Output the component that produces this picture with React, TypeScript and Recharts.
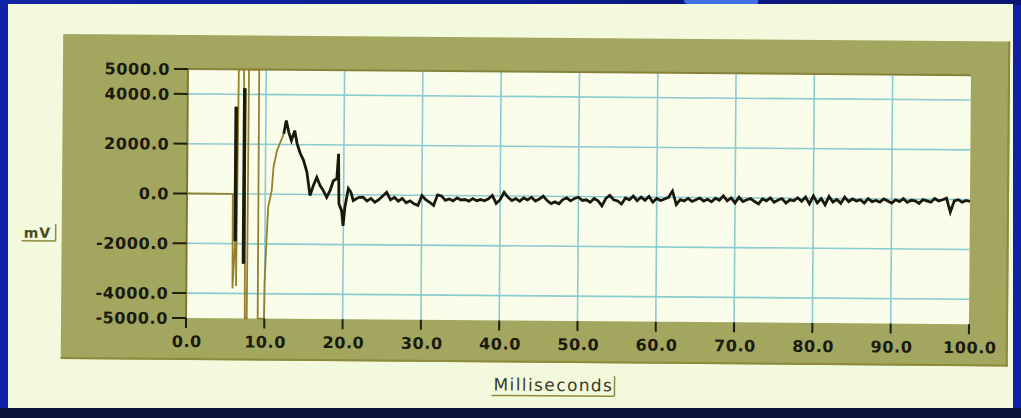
import React from 'react';
import { LineChart, Line, XAxis, YAxis, CartesianGrid, ReferenceLine } from 'recharts';

// Axis ticks and grid positions (milliseconds / mV)
const xTicks = [0, 10, 20, 30, 40, 50, 60, 70, 80, 90, 100];
const yTicks = [-5000, -4000, -2000, 0, 2000, 4000, 5000];
const gridX = [10, 20, 30, 40, 50, 60, 70, 80, 90];
const gridY = [-4000, -2000, 0, 2000, 4000];

// Saturated stimulus burst (thin trace)
const burstTime = [0, 5.85, 5.9, 6.2, 6.25, 6.35, 6.5, 7.15, 7.2, 7.3, 7.35, 7.5, 7.75, 7.8, 9.1, 9.15, 9.95, 10.0, 10.2, 10.38, 10.82, 11.02, 11.46, 11.88, 12.3];
const burstMv = [0, 0, -3800, -1900, 3500, -3700, 5000, 5000, 4300, -2800, 4200, -5000, -5000, 5000, 5000, -5000, -5000, -3600, -1800, -540, 150, 1080, 1760, 2090, 2430];

// Heavy strokes inside the burst
const barTime = [6.2, 6.2, 6.7, 7.28, 7.28];
const barMv: (number | null)[] = [3500, -1900, null, 4250, -2800];

// Evoked response decay
const decayTime = [12.3, 12.61, 12.94, 13.28, 13.7, 14.01, 14.43, 14.85, 15.29, 15.71, 16.13, 16.56, 16.99, 17.41, 17.84, 18.26, 18.68, 19.12, 19.32, 19.41, 19.76, 19.96, 20.18, 20.6, 20.94, 21.24, 21.67, 22.0];
const decayMv = [2430, 2960, 2490, 2160, 2560, 2040, 1640, 1370, 900, -40, 360, 690, 360, 160, -110, 160, 560, 640, 1640, -360, -640, -1250, -500, 250, 100, -230, -150, -100];

// Baseline noise, sampled every 0.5 ms from 22.5 ms
const noiseStart = 22.5;
const noiseStep = 0.5;
const noiseMv = [
  -90, -240, -140, -290, -190, -40, 110, -190, -90, -240,
  -125, -305, -225, -345, -405, -5, -175, -275, -405, 25,
  -15, -195, -135, -215, -95, -175, -155, -215, -115, -195,
  -150, -200, -120, 20, -300, -150, 150, -50, -180, -100,
  -210, -70, -150, -40, -190, -110, 10, -170, -290, -220,
  -295, -125, -55, -175, -75, -25, -155, -125, -225, -75,
  -165, -365, -65, 55, -115, -165, -285, -45, -115, 35,
  -150, 0, -130, 30, -200, -50, -130, -70, 0, 250,
  -290, -90, -140, -40, -160, -90, -20, -140, -70, -170,
  -25, -105, 75, -125, -5, -205, 25, -145, -75, -25,
  -145, -235, -35, -115, 5, -165, -75, -15, -195, -65,
  -100, 20, -120, 50, -220, 100, -180, 0, -250, 80,
  -140, -40, -190, 60, -120, -10, -90, -40, -170, 10,
  -110, -60, -130, 0, -80, -160, -30, -100, 20, -130,
  -45, -65, -165, -15, -65, -115, 35, -65, -15, 55,
  -505, -55, -5, -105, -35, -75,
];

const burstData = burstTime.map((t, i) => ({ t, v: burstMv[i] }));
const barData = barTime.map((t, i) => ({ t, v: barMv[i] }));
const traceData = [
  ...decayTime.map((t, i) => ({ t, v: decayMv[i] })),
  ...noiseMv.map((v, i) => ({ t: noiseStart + i * noiseStep, v })),
];

const FONT = '"DejaVu Sans", Arial, sans-serif';

const YTick = (props: any) => {
  const { x, y, payload } = props;
  return (
    <text x={x} y={y} dy={6} textAnchor="end" fontFamily={FONT} fontSize={16} fontWeight="bold" fill="#1a1a0e" letterSpacing={0.6}>
      {Number(payload.value).toFixed(1)}
    </text>
  );
};

const XTick = (props: any) => {
  const { x, y, payload } = props;
  return (
    <text x={x + 1} y={y} dy={12} textAnchor="middle" fontFamily={FONT} fontSize={16} fontWeight="bold" fill="#1a1a0e" letterSpacing={0.6}>
      {Number(payload.value).toFixed(1)}
    </text>
  );
};

const MvLabel = (props: any) => {
  const vb = props.viewBox || { x: 0, y: 69, width: 187, height: 249 };
  const bx = vb.x + 24;
  const by = vb.y + 170;
  return (
    <g>
      <text x={bx} y={by} fontFamily={FONT} fontSize={14} fontWeight="bold" fill="#4a4820" letterSpacing={1}>
        mV
      </text>
      <line x1={bx - 2} y1={by + 3} x2={bx + 32} y2={by + 3} stroke="#8e8a40" strokeWidth={1.5} />
      <line x1={bx + 32} y1={by - 14} x2={bx + 32} y2={by + 3} stroke="#8e8a40" strokeWidth={1.5} />
    </g>
  );
};

const MsLabel = (props: any) => {
  const vb = props.viewBox || { x: 187, y: 318, width: 783, height: 100 };
  const bx = vb.x + 308;
  const by = vb.y + 70;
  return (
    <g>
      <text x={bx} y={by} fontFamily={FONT} fontSize={17} fill="#3c3c24" letterSpacing={1.4}>
        Milliseconds
      </text>
      <line x1={bx - 2} y1={by + 5} x2={bx + 121} y2={by + 5} stroke="#8e8a40" strokeWidth={1.5} />
      <line x1={bx + 121} y1={by - 15} x2={bx + 121} y2={by + 5} stroke="#8e8a40" strokeWidth={1.5} />
    </g>
  );
};

export default function App() {
  return (
    <div style={{ position: 'absolute', left: 0, top: 0, width: 1021, height: 418, overflow: 'hidden', background: '#0f21a4' }}>
      {/* slide top band */}
      <div style={{ position: 'absolute', left: 0, top: 0, width: 1021, height: 5, background: 'linear-gradient(90deg, #1124a6, #0a1a86 60%, #0a1670)' }} />
      <div style={{ position: 'absolute', left: 684, top: 0, width: 74, height: 4, background: '#3f6fe6', borderBottomLeftRadius: 12 }} />
      {/* bottom band */}
      <div style={{ position: 'absolute', left: 0, top: 408, width: 1021, height: 10, background: '#0b1338' }} />
      {/* cream panel */}
      <div style={{ position: 'absolute', left: 8, top: 4, width: 1005, height: 404, background: '#f3f9dc' }} />
      {/* rotated instrument panel */}
      <div style={{ position: 'absolute', left: 0, top: 0, width: 1021, height: 418, transform: 'rotate(0.45deg)', transformOrigin: '187px 193px' }}>
        <div style={{ position: 'absolute', left: 62, top: 35, width: 945, height: 323, background: '#a3a65f', borderRight: '2px solid #8c8a3c', borderBottom: '2px solid #8c8a3c' }} />
        <div style={{ position: 'absolute', left: 0, top: 0 }}>
          <LineChart width={1021} height={418} margin={{ top: 69, right: 51, bottom: 0, left: 0 }}>
            <CartesianGrid
              fill="#f9fdea"
              fillOpacity={1}
              stroke="#8ccbd2"
              strokeWidth={1.6}
              horizontalValues={gridY}
              verticalValues={gridX}
            />
            <XAxis
              dataKey="t"
              type="number"
              domain={[0, 100]}
              ticks={xTicks}
              interval={0}
              allowDuplicatedCategory={false}
              height={100}
              axisLine={false}
              tickLine={{ stroke: '#1e1e10', strokeWidth: 2 }}
              tickSize={10}
              tickMargin={7}
              tick={<XTick />}
              label={{ content: MsLabel }}
            />
            <YAxis
              type="number"
              domain={[-5000, 5000]}
              ticks={yTicks}
              interval={0}
              width={187}
              axisLine={{ stroke: '#7c7834', strokeWidth: 2 }}
              tickLine={{ stroke: '#1e1e10', strokeWidth: 2 }}
              tickSize={14}
              tickMargin={4}
              tick={<YTick />}
              label={{ content: MvLabel }}
            />
            <ReferenceLine y={5000} stroke="#86823a" strokeWidth={2} />
            <Line data={burstData} dataKey="v" type="linear" stroke="#93802f" strokeWidth={1.8} dot={false} isAnimationActive={false} />
            <Line data={barData} dataKey="v" type="linear" stroke="#1d1a0c" strokeWidth={3.5} dot={false} connectNulls={false} isAnimationActive={false} />
            <Line data={traceData} dataKey="v" type="linear" stroke="#1a180c" strokeWidth={2.8} dot={false} isAnimationActive={false} />
          </LineChart>
        </div>
      </div>
    </div>
  );
}
